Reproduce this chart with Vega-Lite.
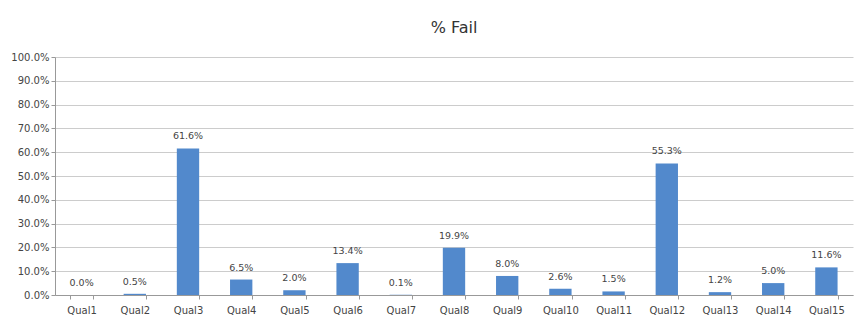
{
  "$schema": "https://vega.github.io/schema/vega-lite/v6.json",
  "width": 867,
  "height": 325,
  "autosize": {"type": "fit", "contains": "padding"},
  "padding": {"left": 10, "right": 14, "top": 20, "bottom": 10},
  "background": "white",
  "title": {"text": "% Fail", "fontSize": 16, "font": "DejaVu Sans", "fontWeight": "normal", "color": "#333333", "offset": 16},
  "data": {"values": [
    {"q": "Qual1", "v": 0.000},
    {"q": "Qual2", "v": 0.005},
    {"q": "Qual3", "v": 0.616},
    {"q": "Qual4", "v": 0.065},
    {"q": "Qual5", "v": 0.020},
    {"q": "Qual6", "v": 0.134},
    {"q": "Qual7", "v": 0.001},
    {"q": "Qual8", "v": 0.199},
    {"q": "Qual9", "v": 0.080},
    {"q": "Qual10", "v": 0.026},
    {"q": "Qual11", "v": 0.015},
    {"q": "Qual12", "v": 0.553},
    {"q": "Qual13", "v": 0.012},
    {"q": "Qual14", "v": 0.050},
    {"q": "Qual15", "v": 0.116}
  ]},
  "encoding": {
    "x": {"field": "q", "type": "nominal", "sort": null,
      "scale": {"paddingInner": 0.58, "paddingOuter": 0.29},
      "axis": {"title": null, "labelAngle": 0, "labelFontSize": 10, "labelFont": "DejaVu Sans", "labelColor": "#444444", "domainColor": "#999999", "tickColor": "#999999", "tickBand": "extent", "tickSize": 4, "labelPadding": 6}},
    "y": {"field": "v", "type": "quantitative",
      "scale": {"domain": [0, 1], "nice": false},
      "axis": {"title": null, "format": ".1%", "values": [0,0.1,0.2,0.3,0.4,0.5,0.6,0.7,0.8,0.9,1.0], "labelOverlap": false, "labelFontSize": 10, "labelFont": "DejaVu Sans", "labelColor": "#444444", "domain": true, "domainColor": "#999999", "ticks": true, "tickSize": 4, "tickColor": "#999999", "gridColor": "#cccccc", "labelPadding": 2}}
  },
  "layer": [
    {"mark": {"type": "bar", "color": "#5289cc"}},
    {"mark": {"type": "text", "baseline": "bottom", "dy": -7, "fontSize": 9.5, "font": "DejaVu Sans", "color": "#444444"},
     "encoding": {"text": {"field": "v", "type": "quantitative", "format": ".1%"}}}
  ],
  "config": {"view": {"stroke": null}}
}
